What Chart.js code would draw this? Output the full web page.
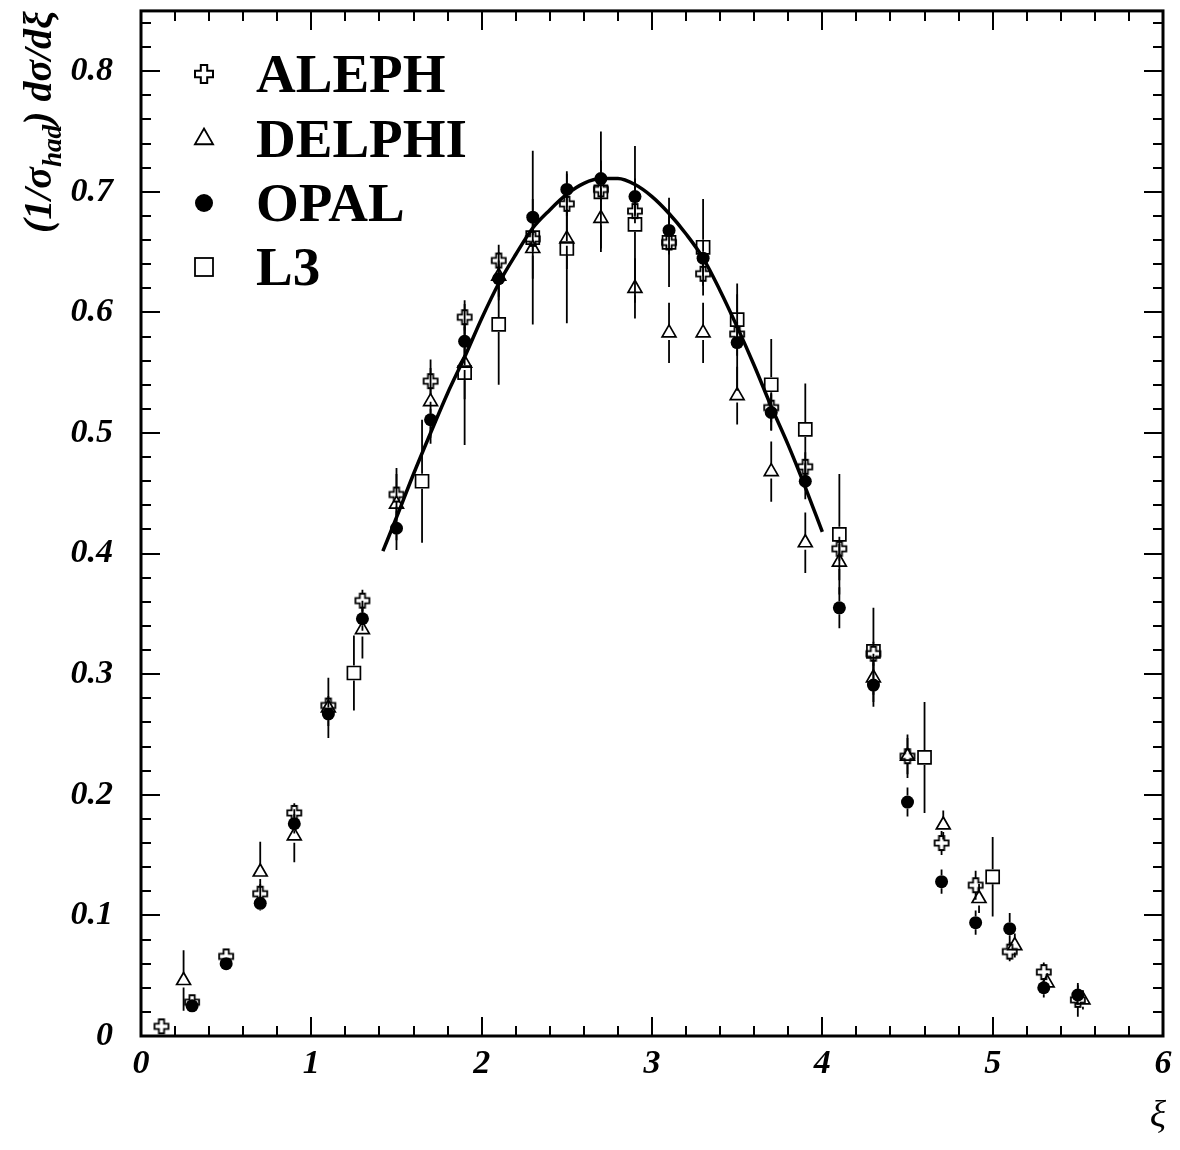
<!DOCTYPE html>
<html><head><meta charset="utf-8">
<script src="https://cdn.jsdelivr.net/npm/chart.js@4.4.1/dist/chart.umd.min.js"></script>
<style>html,body{margin:0;padding:0;background:#fff}#wrap{width:1180px;height:1150px}</style>
</head><body><div id="wrap"><canvas id="c" width="1180" height="1150"></canvas></div>
<script>
// ---------------- data ----------------
const seriesNames = ['ALEPH', 'DELPHI', 'OPAL', 'L3'];
const xTickLabels = ['0', '1', '2', '3', '4', '5', '6'];
const yTickLabels = ['0', '0.1', '0.2', '0.3', '0.4', '0.5', '0.6', '0.7', '0.8'];

const alephX   = [0.12, 0.3, 0.5, 0.7, 0.9, 1.1, 1.3, 1.5, 1.7, 1.9, 2.1, 2.3, 2.5, 2.7, 2.9, 3.1, 3.3, 3.5, 3.7, 3.9, 4.1, 4.3, 4.5, 4.7, 4.9, 5.1, 5.3, 5.5];
const alephY   = [0.008, 0.028, 0.066, 0.118, 0.185, 0.274, 0.361, 0.449, 0.543, 0.596, 0.643, 0.661, 0.690, 0.702, 0.684, 0.658, 0.632, 0.582, 0.521, 0.472, 0.404, 0.317, 0.232, 0.160, 0.125, 0.070, 0.053, 0.030];
const alephErr = [0.004, 0.005, 0.006, 0.008, 0.008, 0.008, 0.009, 0.017, 0.011, 0.011, 0.013, 0.010, 0.010, 0.010, 0.010, 0.010, 0.010, 0.010, 0.012, 0.012, 0.010, 0.010, 0.018, 0.010, 0.012, 0.008, 0.008, 0.014];

const delphiX   = [0.25, 0.7, 0.9, 1.1, 1.3, 1.5, 1.7, 1.9, 2.1, 2.3, 2.5, 2.7, 2.9, 3.1, 3.3, 3.5, 3.7, 3.9, 4.1, 4.3, 4.5, 4.71, 4.92, 5.13, 5.32, 5.53];
const delphiY   = [0.046, 0.136, 0.166, 0.272, 0.337, 0.441, 0.526, 0.558, 0.630, 0.653, 0.661, 0.678, 0.620, 0.583, 0.583, 0.531, 0.468, 0.409, 0.393, 0.297, 0.232, 0.175, 0.114, 0.075, 0.044, 0.030];
const delphiErr = [0.025, 0.025, 0.022, 0.025, 0.024, 0.030, 0.035, 0.030, 0.020, 0.025, 0.025, 0.025, 0.025, 0.025, 0.025, 0.024, 0.025, 0.025, 0.015, 0.020, 0.015, 0.012, 0.012, 0.010, 0.008, 0.008];

const opalX   = [0.3, 0.5, 0.7, 0.9, 1.1, 1.3, 1.5, 1.7, 1.9, 2.1, 2.3, 2.5, 2.7, 2.9, 3.1, 3.3, 3.5, 3.7, 3.9, 4.1, 4.3, 4.5, 4.7, 4.9, 5.1, 5.3, 5.5];
const opalY   = [0.025, 0.060, 0.110, 0.176, 0.267, 0.346, 0.421, 0.511, 0.576, 0.628, 0.679, 0.702, 0.711, 0.696, 0.668, 0.645, 0.575, 0.517, 0.460, 0.355, 0.291, 0.194, 0.128, 0.094, 0.089, 0.040, 0.034];
const opalErr = [0.004, 0.005, 0.006, 0.008, 0.010, 0.010, 0.018, 0.015, 0.015, 0.015, 0.015, 0.015, 0.015, 0.015, 0.015, 0.015, 0.040, 0.015, 0.015, 0.017, 0.018, 0.012, 0.010, 0.010, 0.013, 0.008, 0.008];

const l3X   = [1.25, 1.65, 1.9, 2.1, 2.3, 2.5, 2.7, 2.9, 3.1, 3.3, 3.5, 3.7, 3.9, 4.1, 4.3, 4.6, 5.0];
const l3Y   = [0.301, 0.460, 0.550, 0.590, 0.662, 0.653, 0.700, 0.673, 0.658, 0.654, 0.594, 0.540, 0.503, 0.416, 0.319, 0.231, 0.132];
const l3Err = [0.031, 0.051, 0.060, 0.050, 0.072, 0.062, 0.050, 0.065, 0.037, 0.040, 0.030, 0.038, 0.038, 0.050, 0.036, 0.046, 0.033];

const fitX = [1.42, 1.5, 1.6, 1.7, 1.8, 1.9, 2.0, 2.1, 2.2, 2.3, 2.4, 2.5, 2.6, 2.7, 2.8, 2.9, 3.0, 3.1, 3.2, 3.3, 3.4, 3.5, 3.6, 3.7, 3.8, 3.9, 4.0];
const fitY = [0.402, 0.430, 0.466, 0.500, 0.533, 0.563, 0.595, 0.624, 0.648, 0.670, 0.685, 0.698, 0.707, 0.711, 0.711, 0.706, 0.696, 0.682, 0.665, 0.645, 0.618, 0.588, 0.556, 0.522, 0.490, 0.455, 0.418];

// ---------------- helpers ----------------
function pts(xs, ys) { return xs.map((x, i) => ({ x: x, y: ys[i] })); }

function crossCanvas(half, arm, lw) {
  const s = Math.ceil(half * 2 + lw * 2 + 2);
  const c = document.createElement('canvas');
  c.width = s; c.height = s;
  const g = c.getContext('2d');
  const o = s / 2, h = half, a = arm;
  g.beginPath();
  const p = [[-a,-h],[a,-h],[a,-a],[h,-a],[h,a],[a,a],[a,h],[-a,h],[-a,a],[-h,a],[-h,-a],[-a,-a]];
  p.forEach((q, i) => { if (i === 0) g.moveTo(o + q[0], o + q[1]); else g.lineTo(o + q[0], o + q[1]); });
  g.closePath();
  g.lineWidth = lw; g.strokeStyle = '#000'; g.stroke();
  return c;
}
const crossImg = crossCanvas(7, 2.6, 1.8);

const errSets = { 1: alephErr, 2: delphiErr, 3: opalErr, 4: l3Err };
const gapSets = { 1: 7, 2: 7, 3: 6.5, 4: 7.5 };

const SERIF = '"Liberation Serif", "DejaVu Serif", serif';

const decor = {
  id: 'decor',
  beforeDatasetsDraw(chart) {
    const ctx = chart.ctx, xs = chart.scales.x, ys = chart.scales.y;
    ctx.save();
    ctx.strokeStyle = '#000'; ctx.lineWidth = 1.8;
    Object.keys(errSets).forEach(k => {
      const di = +k, ds = chart.data.datasets[di], errs = errSets[k], gap = gapSets[k];
      ds.data.forEach((p, j) => {
        const px = xs.getPixelForValue(p.x), py = ys.getPixelForValue(p.y);
        const top = ys.getPixelForValue(p.y + errs[j]), bot = ys.getPixelForValue(p.y - errs[j]);
        ctx.beginPath();
        if (py - gap > top) { ctx.moveTo(px, top); ctx.lineTo(px, py - gap); }
        if (py + gap < bot) { ctx.moveTo(px, py + gap); ctx.lineTo(px, bot); }
        ctx.stroke();
      });
    });
    ctx.restore();
  },
  afterDraw(chart) {
    const ctx = chart.ctx, xs = chart.scales.x, ys = chart.scales.y, ca = chart.chartArea;
    ctx.save();
    ctx.strokeStyle = '#000';
    // ticks, inward on all four sides
    ctx.lineWidth = 2;
    ctx.beginPath();
    xs.ticks.forEach(t => {
      const v = t.value, px = Math.round(xs.getPixelForValue(v));
      const major = Math.abs(v - Math.round(v)) < 1e-6;
      const L = major ? 19 : 10;
      ctx.moveTo(px, ca.bottom); ctx.lineTo(px, ca.bottom - L);
      ctx.moveTo(px, ca.top); ctx.lineTo(px, ca.top + L);
    });
    ys.ticks.forEach(t => {
      const v = t.value, py = Math.round(ys.getPixelForValue(v));
      const major = Math.abs(v * 10 - Math.round(v * 10)) < 1e-6;
      const L = major ? 19 : 10;
      ctx.moveTo(ca.left, py); ctx.lineTo(ca.left + L, py);
      ctx.moveTo(ca.right, py); ctx.lineTo(ca.right - L, py);
    });
    ctx.stroke();
    // frame
    ctx.lineWidth = 3;
    ctx.strokeRect(ca.left, ca.top, ca.right - ca.left, ca.bottom - ca.top);

    // legend
    const legY = [74, 139, 203, 267];
    const legBase = [92, 157, 221, 285];
    const mx = 204;
    ctx.fillStyle = '#000';
    ctx.lineWidth = 1.8;
    const big = crossCanvas(9, 3.2, 2);
    ctx.drawImage(big, mx - big.width / 2, legY[0] - big.height / 2);
    const r = 10.5;
    ctx.beginPath();
    ctx.moveTo(mx, legY[1] - r);
    ctx.lineTo(mx + r * 0.866, legY[1] + r * 0.5);
    ctx.lineTo(mx - r * 0.866, legY[1] + r * 0.5);
    ctx.closePath(); ctx.stroke();
    ctx.beginPath(); ctx.arc(mx, legY[2], 9, 0, Math.PI * 2); ctx.fill();
    ctx.strokeRect(mx - 9, legY[3] - 9, 18, 18);
    ctx.font = 'bold 55px ' + SERIF;
    ctx.textAlign = 'left'; ctx.textBaseline = 'alphabetic';
    seriesNames.forEach((n, i) => ctx.fillText(n, 256, legBase[i]));

    // y-axis title (rotated), fitted to span y = 232 .. 10
    const parts = [['(1/σ', 1, 0], ['had', 0.68, 0.25], [') dσ/dξ', 1, 0]];
    let fs = 36;
    let total = 0;
    parts.forEach(p => { ctx.font = 'italic bold ' + (fs * p[1]) + 'px ' + SERIF; total += ctx.measureText(p[0]).width; });
    fs = fs * 222 / total;
    ctx.save();
    ctx.translate(51, 233);
    ctx.rotate(-Math.PI / 2);
    let x = 0;
    parts.forEach(p => {
      ctx.font = 'italic bold ' + (fs * p[1]) + 'px ' + SERIF;
      ctx.fillText(p[0], x, fs * p[2]);
      x += ctx.measureText(p[0]).width;
    });
    ctx.restore();

    // x-axis title
    ctx.font = 'italic 38px ' + SERIF;
    ctx.textAlign = 'center'; ctx.textBaseline = 'alphabetic';
    ctx.fillText('ξ', 1158, 1127);
    ctx.restore();
  }
};

new Chart(document.getElementById('c'), {
  type: 'scatter',
  data: {
    datasets: [
      { label: 'fit', data: pts(fitX, fitY), showLine: true, pointRadius: 0, borderColor: '#000', borderWidth: 3.5, cubicInterpolationMode: 'monotone', order: 0 },
      { label: seriesNames[0], data: pts(alephX, alephY), pointStyle: crossImg, pointRadius: 7, order: 1 },
      { label: seriesNames[1], data: pts(delphiX, delphiY), pointStyle: 'triangle', pointRadius: 8, pointBorderWidth: 1.7, pointBorderColor: '#000', pointBackgroundColor: 'rgba(0,0,0,0)', order: 2 },
      { label: seriesNames[2], data: pts(opalX, opalY), pointStyle: 'circle', pointRadius: 6.5, pointBorderWidth: 0, pointBackgroundColor: '#000', order: 3 },
      { label: seriesNames[3], data: pts(l3X, l3Y), pointStyle: 'rect', pointRadius: 9.2, pointBorderWidth: 1.7, pointBorderColor: '#000', pointBackgroundColor: 'rgba(0,0,0,0)', order: 4 }
    ]
  },
  options: {
    responsive: false,
    devicePixelRatio: 1,
    animation: false,
    layout: { padding: { left: 0, top: 10, right: 17, bottom: 0 } },
    plugins: { legend: { display: false }, tooltip: { enabled: false } },
    scales: {
      x: {
        type: 'linear', min: 0, max: 6,
        grid: { display: false, drawTicks: false },
        border: { display: false },
        ticks: {
          stepSize: 0.2, autoSkip: false, maxRotation: 0, padding: 8, color: '#000',
          font: { family: SERIF, size: 34, style: 'italic', weight: 'bold' },
          callback: (v) => Math.abs(v - Math.round(v)) < 1e-6 ? xTickLabels[Math.round(v)] : ''
        },
        afterFit: (s) => { s.height = 114; s.paddingLeft = 0; s.paddingRight = 0; }
      },
      y: {
        type: 'linear', min: 0, max: 0.85,
        grid: { display: false, drawTicks: false },
        border: { display: false },
        ticks: {
          stepSize: 0.02, autoSkip: false, includeBounds: false, padding: 28, color: '#000',
          font: { family: SERIF, size: 34, style: 'italic', weight: 'bold' },
          callback: (v) => { const k = Math.round(v * 10); return Math.abs(v * 10 - k) < 1e-6 ? yTickLabels[k] : ''; }
        },
        afterFit: (s) => { s.width = 141; s.paddingTop = 0; s.paddingBottom = 0; }
      }
    }
  },
  plugins: [decor]
});
</script>
</body></html>
